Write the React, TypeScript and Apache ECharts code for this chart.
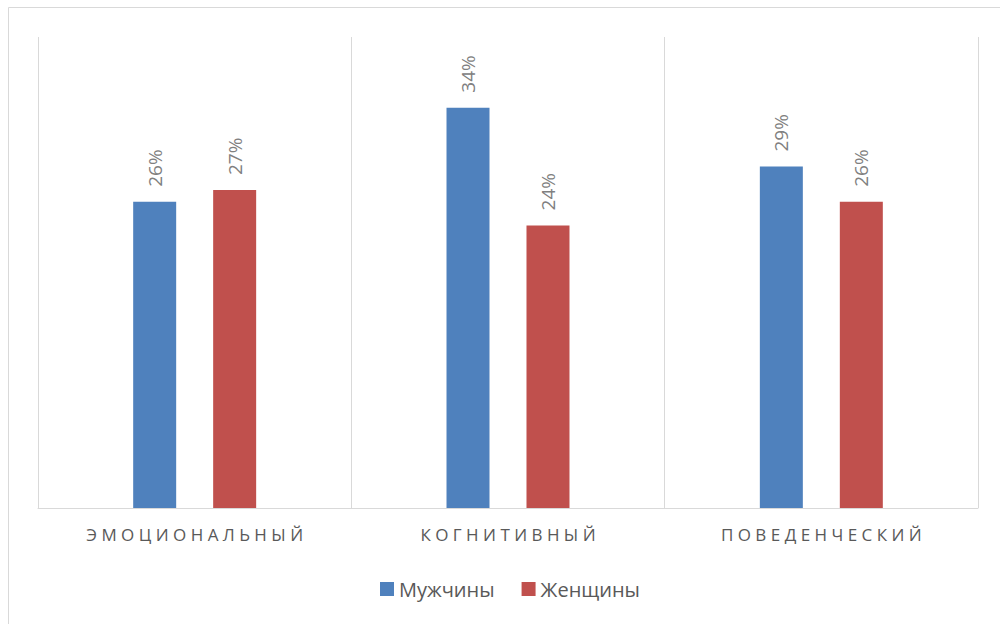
import React, { useEffect, useRef } from "react";
import * as echarts from "echarts";

const categories = ["ЭМОЦИОНАЛЬНЫЙ", "КОГНИТИВНЫЙ", "ПОВЕДЕНЧЕСКИЙ"];
const seriesNames = ["Мужчины", "Женщины"];
const men = [26, 34, 29];
const women = [27, 24, 26];

const spaced = (s: string) => s.split("").join(" ");

export default function App() {
  const ref = useRef<HTMLDivElement>(null);
  useEffect(() => {
    if (!ref.current) return;
    const chart = echarts.init(ref.current, undefined, { renderer: "svg" });
    const labelCfg = {
      show: true,
      position: "top" as const,
      rotate: 90,
      align: "left" as const,
      verticalAlign: "middle" as const,
      distance: 15,
      formatter: "{c}%",
      color: "#808080",
      fontSize: 19,
      fontFamily: "Open Sans",
    };
    chart.setOption({
      animation: false,
      backgroundColor: "#fff",
      graphic: [
        {
          type: "rect",
          shape: { x: 8.5, y: 7.5, width: 1000, height: 700 },
          style: { fill: "none", stroke: "#d9d9d9", lineWidth: 1 },
          silent: true,
        },
      ],
      grid: { left: 38, right: 22, top: 37, bottom: 116 },
      legend: {
        data: seriesNames,
        top: 574,
        left: 375,
        itemWidth: 14,
        itemHeight: 14,
        itemGap: 27,
        icon: "rect",
        textStyle: { color: "#595959", fontSize: 20, fontFamily: "Open Sans" },
      },
      xAxis: {
        type: "category",
        data: categories,
        axisLine: { lineStyle: { color: "#d9d9d9", width: 1 } },
        axisTick: { show: false },
        splitLine: { show: true, lineStyle: { color: "#d9d9d9", width: 1 } },
        axisLabel: {
          color: "#595959",
          fontSize: 17,
          fontFamily: "Open Sans",
          margin: 18,
          formatter: (v: string) => spaced(v),
        },
      },
      yAxis: {
        type: "value",
        min: 0,
        max: 40,
        show: false,
        splitLine: { show: false },
      },
      series: [
        {
          name: seriesNames[0],
          type: "bar",
          data: men,
          barWidth: 43,
          barGap: "86%",
          itemStyle: { color: "#4F81BD" },
          label: labelCfg,
        },
        {
          name: seriesNames[1],
          type: "bar",
          data: women,
          barWidth: 43,
          itemStyle: { color: "#C0504D" },
          label: labelCfg,
        },
      ],
    });
    return () => chart.dispose();
  }, []);
  return (
    <div
      ref={ref}
      style={{ position: "fixed", left: 0, top: 0, width: 1000, height: 624 }}
    />
  );
}
